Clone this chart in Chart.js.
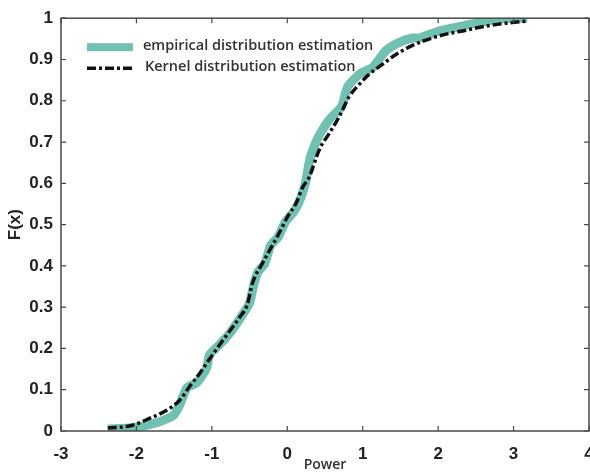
<!DOCTYPE html>
<html>
<head>
<meta charset="utf-8">
<script src="https://cdn.jsdelivr.net/npm/chart.js@4"></script>
<style>
  html, body { margin: 0; padding: 0; background: #fff; }
  #wrap { width: 590px; height: 473px; }
</style>
</head>
<body>
<div id="wrap"><canvas id="cdf" width="590" height="473"></canvas></div>
<script>
// empirical CDF
const empX = [-2.38, -2.05, -1.73, -1.51, -1.43, -1.33, -1.2, -1.07, -1.03, -0.9, -0.77, -0.6, -0.5,
  -0.45, -0.39, -0.3, -0.22, -0.12, -0.03, 0.1, 0.18, 0.24, 0.3, 0.38, 0.45, 0.56, 0.72, 0.8,
  0.96, 1.13, 1.31, 1.48, 1.66, 1.75, 2.01, 2.37, 2.81, 3.18];
const empY = [0.005, 0.008, 0.02, 0.038, 0.062, 0.105, 0.117, 0.152, 0.185, 0.209, 0.235, 0.28, 0.31,
  0.35, 0.385, 0.405, 0.45, 0.47, 0.505, 0.535, 0.565, 0.6, 0.66, 0.7, 0.725, 0.755, 0.786, 0.834,
  0.865, 0.881, 0.922, 0.941, 0.952, 0.952, 0.969, 0.983, 0.998, 1.0];

// kernel density CDF
const kerX = [-2.38, -2.05, -1.82, -1.6, -1.43, -1.29, -1.16, -0.99, -0.8, -0.63, -0.53, -0.46, -0.33,
  -0.2, -0.1, 0.0, 0.12, 0.2, 0.29, 0.43, 0.56, 0.69, 0.82, 0.96, 1.09, 1.26, 1.44, 1.66, 2.01,
  2.37, 2.64, 2.9, 3.18];
const kerY = [0.007, 0.014, 0.031, 0.05, 0.074, 0.109, 0.14, 0.185, 0.233, 0.276, 0.306, 0.359, 0.406,
  0.449, 0.482, 0.518, 0.553, 0.589, 0.615, 0.684, 0.722, 0.762, 0.81, 0.841, 0.865, 0.888, 0.912,
  0.934, 0.957, 0.971, 0.981, 0.988, 0.993];

const xTicks = ['-3', '-2', '-1', '0', '1', '2', '3', '4'];
const yTicks = ['0', '0.1', '0.2', '0.3', '0.4', '0.5', '0.6', '0.7', '0.8', '0.9', '1'];
const seriesNames = ['empirical distribution estimation', 'Kernel distribution estimation'];

const teal = '#70c1b1';
const frameColor = '#4a4a4a';
const kernelDash = [9, 3, 3, 3];

const toPoints = (xs, ys) => xs.map((x, i) => ({ x: x, y: ys[i] }));

// box with inward ticks on all four sides
const framePlugin = {
  id: 'frame',
  afterDraw(chart) {
    const { ctx, chartArea: a, scales } = chart;
    ctx.save();
    ctx.strokeStyle = frameColor;
    ctx.lineWidth = 1.5;
    ctx.strokeRect(a.left, a.top, a.right - a.left, a.bottom - a.top);
    ctx.lineWidth = 1.2;
    ctx.beginPath();
    scales.x.ticks.forEach(t => {
      const px = scales.x.getPixelForValue(t.value);
      ctx.moveTo(px, a.bottom); ctx.lineTo(px, a.bottom - 5);
      ctx.moveTo(px, a.top); ctx.lineTo(px, a.top + 5);
    });
    scales.y.ticks.forEach(t => {
      const py = scales.y.getPixelForValue(t.value);
      ctx.moveTo(a.left, py); ctx.lineTo(a.left + 5, py);
      ctx.moveTo(a.right, py); ctx.lineTo(a.right - 5, py);
    });
    ctx.stroke();
    ctx.restore();
  }
};

// legend inside the plot, top-left
const legendPlugin = {
  id: 'innerLegend',
  afterDraw(chart) {
    const { ctx, chartArea: a } = chart;
    const x0 = a.left + 26, x1 = a.left + 72;
    ctx.save();
    ctx.font = '600 14.5px "Open Sans"';
    ctx.textBaseline = 'middle';
    ctx.fillStyle = teal;
    ctx.fillRect(x0, a.top + 25, x1 - x0, 8);
    ctx.fillStyle = '#333';
    ctx.fillText(seriesNames[0], x1 + 10, a.top + 28);
    ctx.strokeStyle = '#111';
    ctx.lineWidth = 3.5;
    ctx.setLineDash(kernelDash);
    ctx.beginPath();
    ctx.moveTo(x0, a.top + 50); ctx.lineTo(x1 + 2, a.top + 50);
    ctx.stroke();
    ctx.fillText(seriesNames[1], x1 + 12, a.top + 49);
    ctx.restore();
  }
};

new Chart(document.getElementById('cdf'), {
  type: 'line',
  data: {
    datasets: [
      {
        label: seriesNames[0],
        data: toPoints(empX, empY),
        borderColor: teal,
        borderWidth: 9,
        pointRadius: 0,
        tension: 0.2,
        borderCapStyle: 'butt',
        order: 2
      },
      {
        label: seriesNames[1],
        data: toPoints(kerX, kerY),
        borderColor: '#111',
        borderWidth: 3.5,
        borderDash: kernelDash,
        pointRadius: 0,
        cubicInterpolationMode: 'monotone',
        order: 1
      }
    ]
  },
  options: {
    responsive: false,
    animation: false,
    layout: { padding: { top: 10, right: 1, left: 0, bottom: 0 } },
    plugins: { legend: { display: false }, tooltip: { enabled: false } },
    scales: {
      x: {
        type: 'linear',
        min: -3, max: 4,
        grid: { display: false, drawTicks: false },
        border: { display: false },
        afterFit(s) { s.height = 42; s.paddingRight = 0; s.paddingLeft = 0; },
        ticks: {
          stepSize: 1,
          padding: 13,
          color: '#222',
          font: { family: 'Liberation Sans', size: 17, weight: 'bold' },
          callback: (v) => xTicks[Math.round(v + 3)]
        },
        title: {
          display: true, text: 'Power', color: '#333',
          padding: { top: 0, bottom: 0 },
          font: { family: 'Open Sans', size: 14, weight: '600' }
        }
      },
      y: {
        min: 0, max: 1,
        grid: { display: false, drawTicks: false },
        border: { display: false },
        afterFit(s) { s.width = 61; },
        ticks: {
          stepSize: 0.1,
          padding: 8,
          color: '#222',
          font: { family: 'Liberation Sans', size: 17, weight: 'bold' },
          callback: (v) => yTicks[Math.round(v * 10)]
        },
        title: {
          display: true, text: 'F(x)', color: '#222',
          padding: { top: 5, bottom: 0 },
          font: { family: 'Liberation Sans', size: 17, weight: 'bold' }
        }
      }
    }
  },
  plugins: [framePlugin, legendPlugin]
});
</script>
</body>
</html>
